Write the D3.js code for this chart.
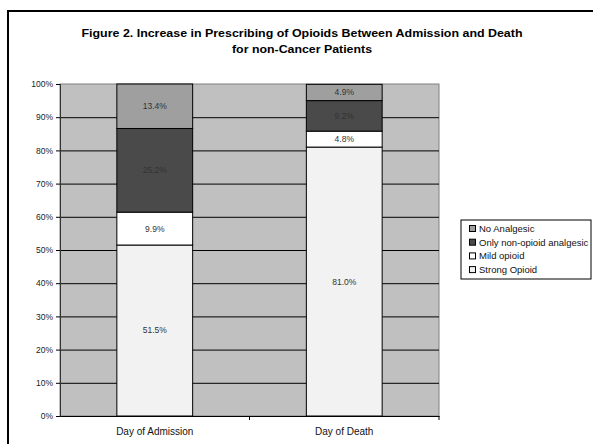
<!DOCTYPE html>
<html>
<head>
<meta charset="utf-8">
<script src="https://cdn.jsdelivr.net/npm/d3@7"></script>
<style>
  body { margin: 0; background: #fff; }
  text { font-family: "Liberation Sans", Arial, sans-serif; }
</style>
</head>
<body>
<div id="grafica"></div>
<script>
// datos
var categorias = ["Day of Admission", "Day of Death"];
var series = ["Strong Opioid", "Mild opioid", "Only non-opioid analgesic", "No Analgesic"];
var strongOpioid = [51.5, 81.0];
var mildOpioid = [9.9, 4.8];
var nonOpioid = [25.2, 9.2];
var noAnalgesic = [13.4, 4.9];
var yTicks = [0, 10, 20, 30, 40, 50, 60, 70, 80, 90, 100];
var colores = ["#f2f2f2", "#ffffff", "#4a4a4a", "#9f9f9f"];

var tabla = categorias.map(function(c, i) {
  return {cat: c, "Strong Opioid": strongOpioid[i], "Mild opioid": mildOpioid[i],
    "Only non-opioid analgesic": nonOpioid[i], "No Analgesic": noAnalgesic[i]};
});

var W = 593, H = 444;
var plot = {left: 60, right: 439, top: 84, bottom: 416};

var svg = d3.select("#grafica").append("svg")
  .attr("width", W).attr("height", H);

// marco exterior
svg.append("rect")
  .attr("x", 8).attr("y", 11).attr("width", 620).attr("height", 460)
  .attr("fill", "none").attr("stroke", "#000").attr("stroke-width", 2);

// titulo
svg.append("text").attr("x", 302).attr("y", 37)
  .attr("text-anchor", "middle").attr("font-size", 11).attr("font-weight", "bold")
  .attr("textLength", 441).attr("lengthAdjust", "spacingAndGlyphs")
  .text("Figure 2. Increase in Prescribing of Opioids Between Admission and Death");
svg.append("text").attr("x", 302).attr("y", 53)
  .attr("text-anchor", "middle").attr("font-size", 11).attr("font-weight", "bold")
  .attr("textLength", 140).attr("lengthAdjust", "spacingAndGlyphs")
  .text("for non-Cancer Patients");

var x = d3.scaleBand().domain(categorias).range([plot.left, plot.right]).padding(0);
var y = d3.scaleLinear().domain([0, 100]).range([plot.bottom, plot.top]);

// fondo
svg.append("rect")
  .attr("x", plot.left).attr("y", plot.top)
  .attr("width", plot.right - plot.left).attr("height", plot.bottom - plot.top)
  .attr("fill", "#c0c0c0").attr("stroke", "#808080").attr("stroke-width", 1);

// lineas de cuadricula
svg.append("g").selectAll("line")
  .data(yTicks.filter(function(d) { return d > 0 && d < 100; }))
  .enter().append("line")
  .attr("x1", plot.left).attr("x2", plot.right)
  .attr("y1", function(d) { return y(d) + 0.5; })
  .attr("y2", function(d) { return y(d) + 0.5; })
  .attr("stroke", "#000").attr("stroke-width", 1);

// barras apiladas
var stack = d3.stack().keys(series)(tabla);
var bw = x.bandwidth() * 0.4;
var off = x.bandwidth() * 0.3;

var capas = svg.append("g").selectAll("g")
  .data(stack).enter().append("g")
  .attr("fill", function(d, i) { return colores[i]; });

capas.selectAll("rect")
  .data(function(d) { return d; })
  .enter().append("rect")
  .attr("x", function(d) { return x(d.data.cat) + off; })
  .attr("y", function(d) { return y(d[1]); })
  .attr("width", bw)
  .attr("height", function(d) { return y(d[0]) - y(d[1]); })
  .attr("stroke", "#000").attr("stroke-width", 1);

capas.selectAll("text")
  .data(function(d) { return d; })
  .enter().append("text")
  .attr("x", function(d) { return x(d.data.cat) + x.bandwidth() / 2; })
  .attr("y", function(d) { return (y(d[0]) + y(d[1])) / 2; })
  .attr("dy", "0.35em")
  .attr("text-anchor", "middle").attr("font-size", 8.5).attr("fill", "#333")
  .text(function(d) { return (d[1] - d[0]).toFixed(1) + "%"; });

// eje Y
var ejeY = svg.append("g")
  .attr("transform", "translate(" + plot.left + ",0)")
  .call(d3.axisLeft(y).tickValues(yTicks).tickSize(4).tickPadding(3)
    .tickFormat(function(d) { return d + "%"; }));
ejeY.selectAll("text").attr("font-size", 8.5).attr("fill", "#222");
ejeY.select(".domain").attr("stroke", "#333");

// eje X
var ejeX = svg.append("g")
  .attr("transform", "translate(0," + plot.bottom + ")")
  .call(d3.axisBottom(x).tickSize(0).tickPadding(12));
ejeX.selectAll("text").attr("font-size", 10).attr("fill", "#111");
ejeX.select(".domain").attr("stroke", "#000");
ejeX.selectAll(".sep")
  .data(categorias).enter().append("line")
  .attr("class", "sep")
  .attr("x1", function(d) { return x(d) + x.bandwidth(); })
  .attr("x2", function(d) { return x(d) + x.bandwidth(); })
  .attr("y1", 0).attr("y2", 4)
  .attr("stroke", "#000");

// leyenda
var leyenda = svg.append("g").attr("transform", "translate(461,220)");
leyenda.append("rect")
  .attr("x", 0).attr("y", 0).attr("width", 130).attr("height", 59)
  .attr("fill", "#fff").attr("stroke", "#000").attr("stroke-width", 1);
var orden = series.slice().reverse();
var items = leyenda.selectAll(".item")
  .data(orden).enter().append("g")
  .attr("class", "item")
  .attr("transform", function(d, i) { return "translate(8," + (8.5 + i * 13.7) + ")"; });
items.append("rect")
  .attr("x", 0.5).attr("y", -3).attr("width", 6).attr("height", 6)
  .attr("fill", function(d) { return colores[series.indexOf(d)]; })
  .attr("stroke", "#000").attr("stroke-width", 1);
items.append("text")
  .attr("x", 10).attr("y", 0).attr("dy", "0.35em")
  .attr("font-size", 9.5).attr("fill", "#111")
  .text(function(d) { return d; });
</script>
</body>
</html>
